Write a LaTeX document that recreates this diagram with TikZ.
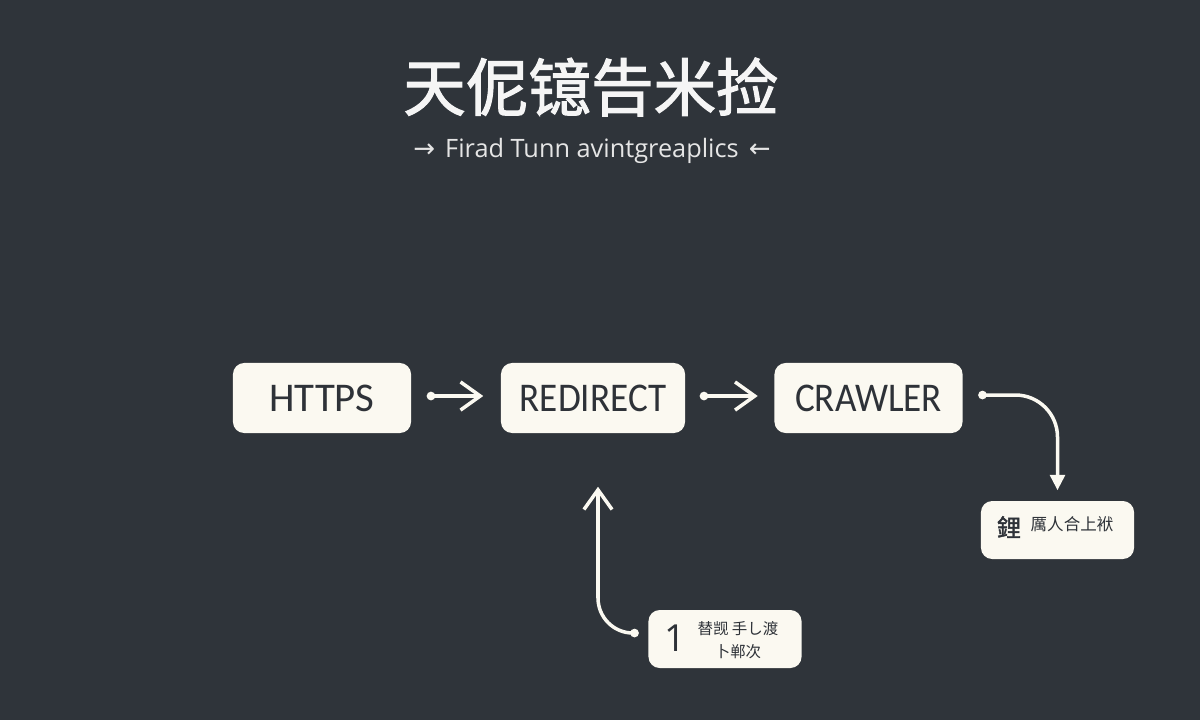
\documentclass[tikz,border=0pt]{standalone}
\usepackage{fontspec}
\setmainfont{Open Sans}
\newfontfamily\cjk{Noto Sans CJK SC}
\newfontfamily\cjkbold[FakeBold=1.8]{Noto Sans CJK SC}
\newfontfamily\arrowfont{DejaVu Sans}
\newfontfamily\labelfont{Carlito}
\newfontfamily\narrowfont[FakeStretch=0.91]{Carlito}
\usetikzlibrary{arrows.meta}
\definecolor{bgdark}{HTML}{2F343A}
\definecolor{boxcream}{HTML}{FBF9F1}
\definecolor{boxink}{HTML}{2E3238}
\tikzset{
  flowbox/.style={fill=boxcream, rounded corners=3.2pt, text=boxink, inner sep=0pt, align=center},
  mainbox/.style={flowbox, minimum height=0.7cm, font=\labelfont\fontsize{11.6}{13}\selectfont},
  narrowbox/.style={mainbox, font=\narrowfont\fontsize{11.6}{13}\selectfont},
  notebox/.style={flowbox, minimum width=1.53cm, minimum height=0.58cm},
  flowline/.style={draw=boxcream, line width=1pt, line cap=round,
    {Circle[length=2.4pt]}-{Straight Barb[length=5.6pt,width=8pt,line width=1pt]}},
  solidline/.style={draw=boxcream, line width=1pt, line cap=round,
    {Circle[length=2.4pt]}-{Triangle[length=4.4pt,width=4.2pt]}}
}
\begin{document}
\begin{tikzpicture}[x=0.01cm,y=-0.01cm]
\fill[bgdark] (0,0) rectangle (1200,720);
\useasboundingbox (0,0) rectangle (1200,720);
% title
\node[white!96!black] (title) at (591,87) {\cjkbold\fontsize{17.8}{20}\selectfont 天伲镱告米捡};
\node[white!90!black] (subtitle) at (592,151) {\fontsize{7.2}{9}\selectfont{\arrowfont\fontsize{7.4}{9}\selectfont →}\hspace{1pt} Firad Tunn avintgreaplics \hspace{1pt}{\arrowfont\fontsize{7.4}{9}\selectfont ←}};
% main row
\node[mainbox, minimum width=1.78cm] (https) at (322,398) {HTTPS};
\node[narrowbox, minimum width=1.84cm] (redirect) at (593,398) {REDIRECT};
\node[narrowbox, minimum width=1.88cm] (crawler) at (868.5,398) {CRAWLER};
% note boxes
\node[notebox] (noteright) at (1057.5,530) {};
\node[boxink] (noterightmark) at (1009,527) {\cjkbold\fontsize{6.8}{8}\selectfont 鋰};
\node[boxink] (noterighttext) at (1072,524) {\cjk\fontsize{4.7}{6}\selectfont 厲人合上袱};
\node[notebox] (notelow) at (725,639) {};
\node[boxink] (notelownum) at (675,638) {\fontsize{10.6}{12}\selectfont 1};
\node[boxink, align=center, font=\cjk\fontsize{4.4}{6.5}\selectfont] (notelowtext) at (738,640) {替觊 手し渡\\ 卜郸次};
% connectors
\draw[flowline, shorten <=0.15cm, shorten >=0.17cm] ([yshift=0.57pt]https.east) -- ([yshift=0.57pt]redirect.west);
\draw[flowline, shorten <=0.14cm, shorten >=0.16cm] ([yshift=0.57pt]redirect.east) -- ([yshift=0.57pt]crawler.west);
\draw[solidline, rounded corners=0.42cm, shorten <=0.15cm, shorten >=0.1cm] ([yshift=0.85pt]crawler.east) -| (noteright.north);
\draw[flowline, rounded corners=0.35cm, shorten <=0.09cm, shorten >=0.53cm] ([yshift=1.7pt]notelow.west) -| ([xshift=1.42pt]redirect.south);
\end{tikzpicture}
\end{document}
